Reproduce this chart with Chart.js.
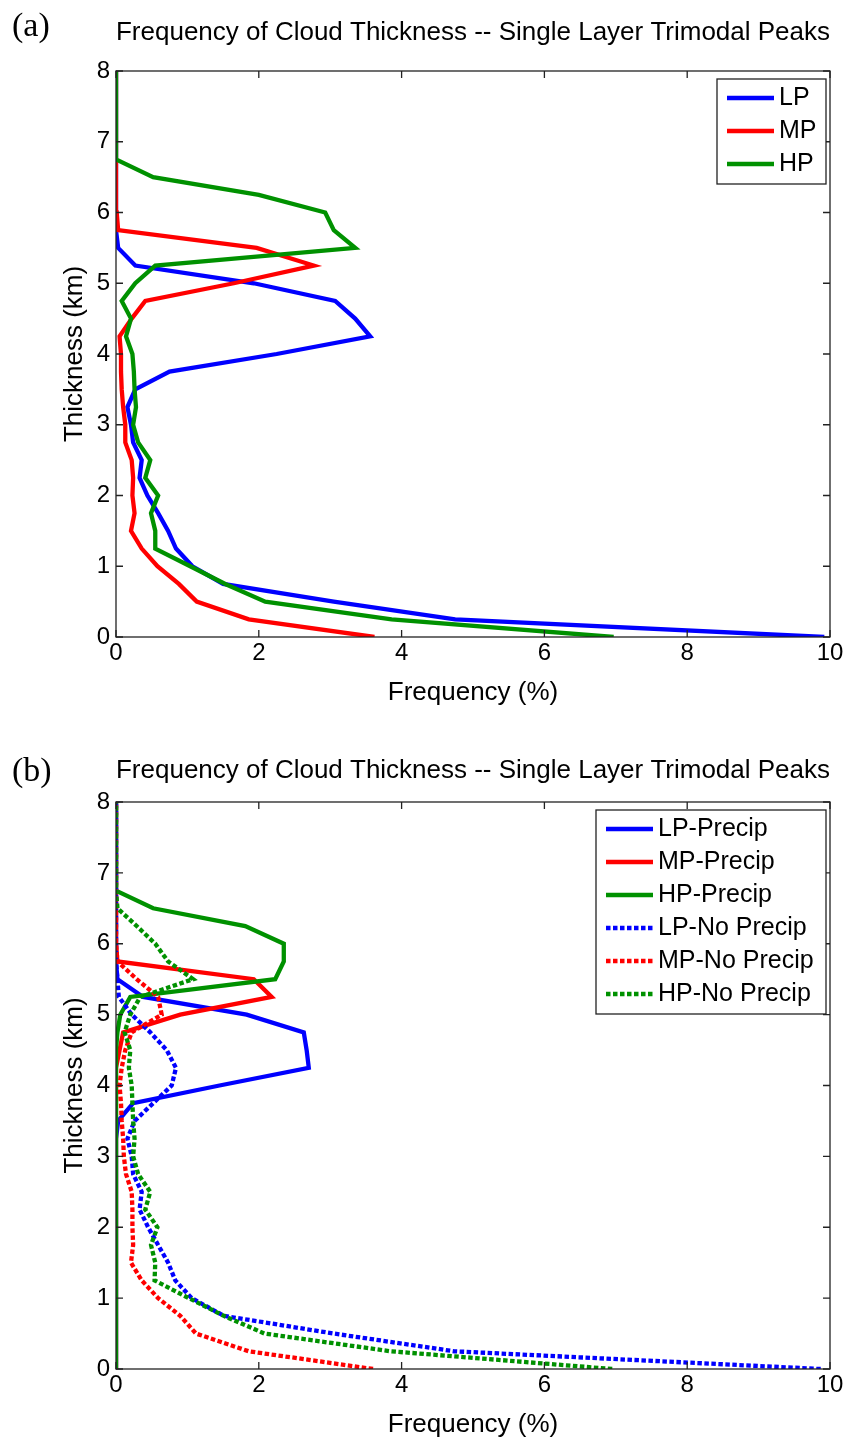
<!DOCTYPE html>
<html>
<head>
<meta charset="utf-8">
<script src="https://cdn.jsdelivr.net/npm/chart.js@4.4.1/dist/chart.umd.min.js"></script>
<style>
    html, body { margin: 0; padding: 0; background: #fff; overflow: hidden; }
    body { width: 851px; height: 1441px; position: relative; }
    canvas { position: absolute; left: 0; }
    .tag { position: absolute; left: 12px; font-family: "Liberation Serif", "Times New Roman", serif; font-size: 34px; line-height: 1; color: #000; }
</style>
</head>
<body>
<canvas id="chartA" style="top:0px" width="851" height="720"></canvas>
<canvas id="chartB" style="top:731px" width="851" height="710"></canvas>
<div class="tag" style="top:8px">(a)</div>
<div class="tag" style="top:753px">(b)</div>
<script>
// thickness levels (km)
var thickness = [0, 0.25, 0.5, 0.75, 1, 1.25, 1.5, 1.75, 2, 2.25, 2.5, 2.75, 3, 3.25, 3.5, 3.75, 4,
                 4.25, 4.5, 4.75, 5, 5.25, 5.5, 5.75, 6, 6.25, 6.5, 6.75, 7, 7.25, 7.5, 7.75, 8];

// panel (a) frequencies (%)
var lpAll = [9.92, 4.75, 3.05, 1.50, 1.07, 0.84, 0.73, 0.59, 0.44, 0.33, 0.36, 0.24, 0.21, 0.16, 0.27, 0.75, 2.25,
             3.56, 3.35, 3.07, 1.93, 0.27, 0.03, 0, 0, 0, 0, 0, 0, 0, 0, 0, 0];
var mpAll = [3.62, 1.86, 1.13, 0.88, 0.58, 0.36, 0.21, 0.26, 0.23, 0.24, 0.22, 0.13, 0.13, 0.10, 0.08, 0.07, 0.07,
             0.05, 0.22, 0.41, 1.65, 2.77, 1.97, 0.03, 0.01, 0, 0, 0, 0, 0, 0, 0, 0];
var hpAll = [6.97, 3.86, 2.09, 1.53, 1.04, 0.55, 0.55, 0.49, 0.59, 0.41, 0.48, 0.31, 0.24, 0.28, 0.26, 0.25, 0.23,
             0.14, 0.21, 0.08, 0.27, 0.55, 3.35, 3.05, 2.93, 2.00, 0.52, 0, 0, 0, 0, 0, 0];

// panel (b) frequencies (%)
var lpPrecip = [0, 0, 0, 0, 0, 0, 0, 0, 0, 0, 0, 0, 0, 0, 0.03, 0.24, 1.45,
                2.70, 2.67, 2.63, 1.83, 0.38, 0.02, 0, 0, 0, 0, 0, 0, 0, 0, 0, 0];
var mpPrecip = [0, 0, 0, 0, 0, 0, 0, 0, 0, 0, 0, 0, 0, 0, 0, 0, 0,
                0, 0.05, 0.10, 0.90, 2.18, 1.93, 0.02, 0, 0, 0, 0, 0, 0, 0, 0, 0];
var hpPrecip = [0, 0, 0, 0, 0, 0, 0, 0, 0, 0, 0, 0, 0, 0, 0, 0, 0,
                0, 0, 0.02, 0.06, 0.20, 2.23, 2.35, 2.35, 1.81, 0.52, 0, 0, 0, 0, 0, 0];
var lpNoPrecip = [9.87, 4.74, 3.05, 1.51, 1.06, 0.83, 0.73, 0.59, 0.45, 0.33, 0.36, 0.24, 0.22, 0.16, 0.26, 0.52, 0.78,
                  0.84, 0.71, 0.48, 0.22, 0.04, 0.02, 0, 0, 0, 0, 0, 0, 0, 0, 0, 0];
var mpNoPrecip = [3.60, 1.86, 1.12, 0.90, 0.59, 0.36, 0.21, 0.24, 0.23, 0.23, 0.22, 0.14, 0.11, 0.10, 0.08, 0.07, 0.05,
                  0.08, 0.13, 0.22, 0.64, 0.59, 0.29, 0.02, 0, 0, 0, 0, 0, 0, 0, 0, 0];
var hpNoPrecip = [6.95, 3.85, 2.08, 1.51, 1.02, 0.54, 0.55, 0.49, 0.58, 0.41, 0.48, 0.31, 0.24, 0.26, 0.24, 0.23, 0.22,
                  0.18, 0.20, 0.12, 0.20, 0.34, 1.08, 0.73, 0.55, 0.29, 0.02, 0, 0, 0, 0, 0, 0];

var freqTicks = [0, 2, 4, 6, 8, 10];
var thickTicks = [0, 1, 2, 3, 4, 5, 6, 7, 8];

var FONT = '"Liberation Sans", Arial, Helvetica, sans-serif';
var BLUE = '#0000ff', RED = '#ff0000', GREEN = 'rgb(0,145,0)';
var DOTS = [4.5, 2.5];

function toPoints(values) {
    return values.map(function (f, i) { return {x: f, y: thickness[i]}; });
}

function line(label, values, color, dash, idx, n) {
    return {
        label: label,
        data: toPoints(values),
        borderColor: color,
        backgroundColor: color,
        borderWidth: 4.3,
        borderDash: dash || [],
        borderCapStyle: 'butt',
        showLine: true,
        pointRadius: 0,
        fill: false,
        tension: 0,
        order: n - idx
    };
}

// box, inward ticks and legend inside the axes
var frame = {
    id: 'frame',
    afterDraw: function (chart, args, opts) {
        var ctx = chart.ctx, a = chart.chartArea;
        var xs = chart.scales.x, ys = chart.scales.y;
        ctx.save();
        ctx.strokeStyle = '#222';
        ctx.lineWidth = 1.3;
        ctx.setLineDash([]);
        ctx.strokeRect(a.left, a.top, a.right - a.left, a.bottom - a.top);
        ctx.beginPath();
        xs.ticks.forEach(function (t) {
            var px = xs.getPixelForValue(t.value);
            ctx.moveTo(px, a.bottom); ctx.lineTo(px, a.bottom - 7);
            ctx.moveTo(px, a.top); ctx.lineTo(px, a.top + 7);
        });
        ys.ticks.forEach(function (t) {
            var py = ys.getPixelForValue(t.value);
            ctx.moveTo(a.left, py); ctx.lineTo(a.left + 7, py);
            ctx.moveTo(a.right, py); ctx.lineTo(a.right - 7, py);
        });
        ctx.stroke();

        var sets = chart.data.datasets;
        var w = opts.legendWidth, h = 19 + (sets.length - 1) * 33 + 20;
        var right = a.right - 4, top = a.top + 8, left = right - w;
        ctx.fillStyle = '#fff';
        ctx.fillRect(left, top, w, h);
        ctx.strokeRect(left, top, w, h);
        ctx.font = '25px ' + FONT;
        ctx.textBaseline = 'middle';
        sets.forEach(function (ds, i) {
            var y = top + 19 + i * 33;
            ctx.strokeStyle = ds.borderColor;
            ctx.lineWidth = 4.3;
            ctx.lineCap = 'butt';
            ctx.setLineDash(ds.borderDash);
            ctx.beginPath();
            ctx.moveTo(left + 10, y);
            ctx.lineTo(left + 57, y);
            ctx.stroke();
            ctx.setLineDash([]);
            ctx.fillStyle = '#000';
            ctx.fillText(ds.label, left + 62, y);
        });
        ctx.restore();
    }
};

function makeChart(id, datasets, o) {
    var ctx = document.getElementById(id).getContext('2d');
    return new Chart(ctx, {
        type: 'scatter',
        data: {datasets: datasets},
        plugins: [frame],
        options: {
            responsive: false,
            animation: false,
            devicePixelRatio: 1,
            layout: {padding: {left: 0, right: 21, top: 0, bottom: 0}},
            plugins: {
                legend: {display: false},
                tooltip: {enabled: false},
                title: {
                    display: true,
                    fullSize: false,
                    text: 'Frequency of Cloud Thickness -- Single Layer Trimodal Peaks',
                    color: '#000',
                    font: {family: FONT, size: 26, weight: 'normal', lineHeight: 1.2},
                    padding: {top: o.titleTop, bottom: o.titleBottom}
                },
                frame: {legendWidth: o.legendWidth}
            },
            scales: {
                x: {
                    type: 'linear',
                    min: 0, max: 10,
                    afterBuildTicks: function (s) { s.ticks = freqTicks.map(function (v) { return {value: v}; }); },
                    afterFit: function (s) { s.height = o.xAxisHeight; },
                    grid: {display: false, drawTicks: false},
                    border: {display: false},
                    ticks: {color: '#000', font: {family: FONT, size: 24}, padding: 2, maxRotation: 0, autoSkip: false},
                    title: {display: true, text: 'Frequency (%)', color: '#000',
                            font: {family: FONT, size: 26, lineHeight: 1.2}, padding: {top: 0, bottom: o.xTitleBottom}}
                },
                y: {
                    type: 'linear',
                    min: 0, max: 8,
                    afterBuildTicks: function (s) { s.ticks = thickTicks.map(function (v) { return {value: v}; }); },
                    afterFit: function (s) { s.width = 116; },
                    grid: {display: false, drawTicks: false},
                    border: {display: false},
                    ticks: {color: '#000', font: {family: FONT, size: 24}, padding: 6, autoSkip: false},
                    title: {display: true, text: 'Thickness (km)', color: '#000',
                            font: {family: FONT, size: 26, lineHeight: 1.2}, padding: {top: 59, bottom: 0}}
                }
            }
        }
    });
}

makeChart('chartA', [
    line('LP', lpAll, BLUE, null, 0, 3),
    line('MP', mpAll, RED, null, 1, 3),
    line('HP', hpAll, GREEN, null, 2, 3)
], {titleTop: 17.4, titleBottom: 22.4, xAxisHeight: 83, xTitleBottom: 11.4, legendWidth: 109});

makeChart('chartB', [
    line('LP-Precip', lpPrecip, BLUE, null, 0, 6),
    line('MP-Precip', mpPrecip, RED, null, 1, 6),
    line('HP-Precip', hpPrecip, GREEN, null, 2, 6),
    line('LP-No Precip', lpNoPrecip, BLUE, DOTS, 3, 6),
    line('MP-No Precip', mpNoPrecip, RED, DOTS, 4, 6),
    line('HP-No Precip', hpNoPrecip, GREEN, DOTS, 5, 6)
], {titleTop: 24.4, titleBottom: 15.4, xAxisHeight: 72, xTitleBottom: 1, legendWidth: 230});
</script>
</body>
</html>
